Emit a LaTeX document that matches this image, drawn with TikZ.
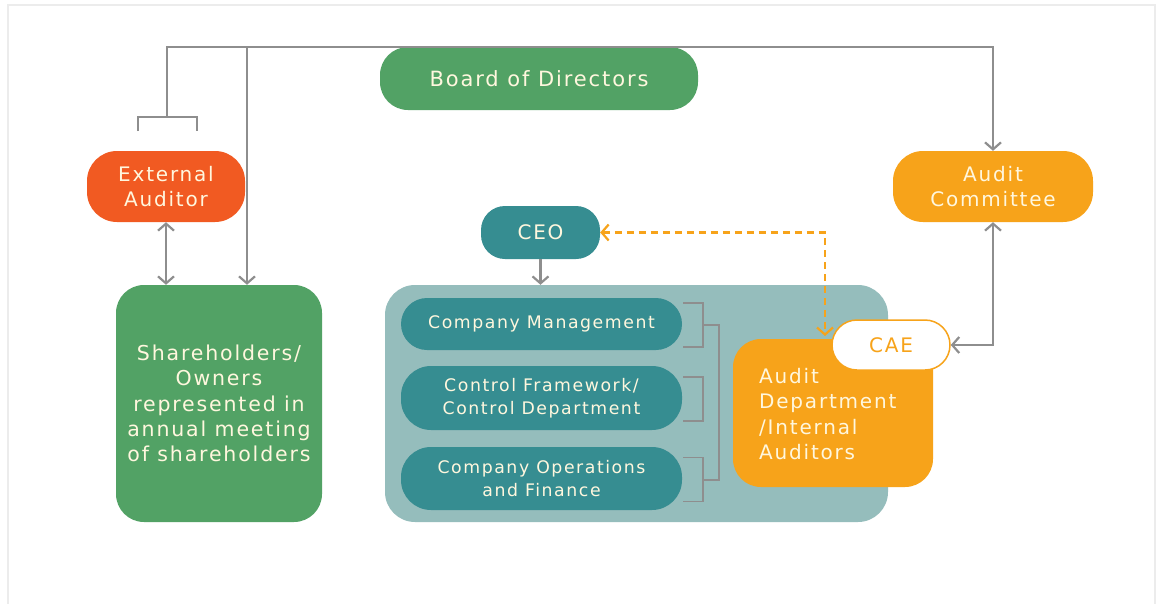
\documentclass[tikz,border=0pt]{standalone}
\usepackage{fontspec}
\setmainfont[LetterSpace=9]{DejaVu Sans}
\usetikzlibrary{arrows.meta,calc}
\definecolor{bgreen}{HTML}{52A265}
\definecolor{redor}{HTML}{F15A22}
\definecolor{aorange}{HTML}{F7A31A}
\definecolor{teal}{HTML}{368D91}
\definecolor{panelc}{HTML}{95BDBC}
\definecolor{linec}{HTML}{8E8E8E}
\definecolor{txtc}{HTML}{FFF7DE}
\begin{document}
\begin{tikzpicture}[x=1pt,y=-1pt,
  box/.style={rounded corners=#1,inner sep=0pt,text=txtc,align=center,font=\fontsize{20}{25}\selectfont},
  box/.default=28pt,
  small/.style={font=\fontsize{17.3}{23.5}\selectfont},
  conn/.style={draw=linec,line width=2.2pt},
  >={Straight Barb[length=7pt,width=16pt]},
  dashconn/.style={draw=aorange,line width=2.2pt,dash pattern=on 7pt off 5pt}
]
\useasboundingbox (0,0) rectangle (1157,603);
\fill[white] (0,0) rectangle (1157,603);
\draw[gray!15,line width=2pt] (8,610) -- (8,5) -- (1155,5) -- (1155,610);

% nodes
\node[box,fill=bgreen,minimum width=318pt,minimum height=63pt,font=\fontsize{21}{25}\selectfont] (board) at (539,78.5) {Board of Directors};
\node[box=30pt,fill=redor,minimum width=158pt,minimum height=71pt] (ext) at (166,186.5) {External\\Auditor};
\node[box,fill=bgreen,minimum width=206pt,minimum height=237pt,font=\fontsize{20.5}{25.2}\selectfont] (share) at (219,403.5) {Shareholders/\\Owners\\represented in\\annual meeting\\of shareholders};
\node[box=30pt,fill=aorange,minimum width=200pt,minimum height=71pt] (ac) at (993,186.5) {Audit\\Committee};
\node[box=24pt,fill=teal,minimum width=119pt,minimum height=53pt] (ceo) at (540.5,232.5) {CEO};
\node[box=30pt,fill=panelc,minimum width=503pt,minimum height=237pt] (panel) at (636.5,403.5) {};
\node[box=26pt,fill=teal,minimum width=281pt,minimum height=52pt,small] (cm) at (541.5,324) {Company Management};
\node[box=30pt,fill=teal,minimum width=281pt,minimum height=64pt,small] (cf) at (541.5,398) {Control Framework/\\Control Department};
\node[box=30pt,fill=teal,minimum width=281pt,minimum height=63pt,small] (co) at (541.5,478.5) {Company Operations\\and Finance};
\node[box,fill=aorange,minimum width=200pt,minimum height=148pt] (ad) at (833,413) {};
\node[text=txtc,align=left,anchor=west,inner sep=0pt,font=\fontsize{20}{25.3}\selectfont] (adt) at (759,414) {Audit\\Department\\/Internal\\Auditors};
\node[box=25pt,fill=white,draw=aorange,line width=1.5pt,minimum width=118pt,minimum height=50pt,text=aorange] (cae) at (891,345) {CAE};

% top connectors
\coordinate (tl) at (167,47);
\coordinate (t2) at (247,47);
\coordinate (bk) at (167,117);
\draw[conn,->] (bk) -- (tl) -| (ac.north);
\draw[conn] (138,131) -- (138,117) -- (197,117) -- (197,131);
\draw[conn,->] (t2) -- (t2 |- share.north);
\draw[conn,<->] (ext.south) -- (ext.south |- share.north);
\draw[conn,->] (ceo.south) -- (ceo.south |- panel.north);
\draw[conn,<->] (ac.south) |- (cae.east);

% brackets
\draw[conn,line width=1.8pt] ($(cm.east)+(1,-21)$) -- ++(20,0) -- ++(0,44) -- ++(-20,0);
\draw[conn,line width=1.8pt] ($(cf.east)+(1,-21)$) -- ++(20,0) -- ++(0,44) -- ++(-20,0);
\draw[conn,line width=1.8pt] ($(co.east)+(1,-21)$) -- ++(20,0) -- ++(0,44) -- ++(-20,0);
\coordinate (sp1) at ($(cm.east)+(37,1)$);
\coordinate (sp3) at ($(co.east)+(37,1.5)$);
\draw[conn,line width=1.8pt] ($(cm.east)+(21,1)$) -- (sp1) -- (sp3) -- ($(co.east)+(21,1.5)$);
\draw[conn,line width=1.8pt] ($(cf.east)+(21,1)$) -- ($(cf.east)+(21,1)$ -| ad.west);

% dashed
\coordinate (dd) at (825,336);
\draw[dashconn,<->] (ceo.east) -| (dd);
\end{tikzpicture}
\end{document}
